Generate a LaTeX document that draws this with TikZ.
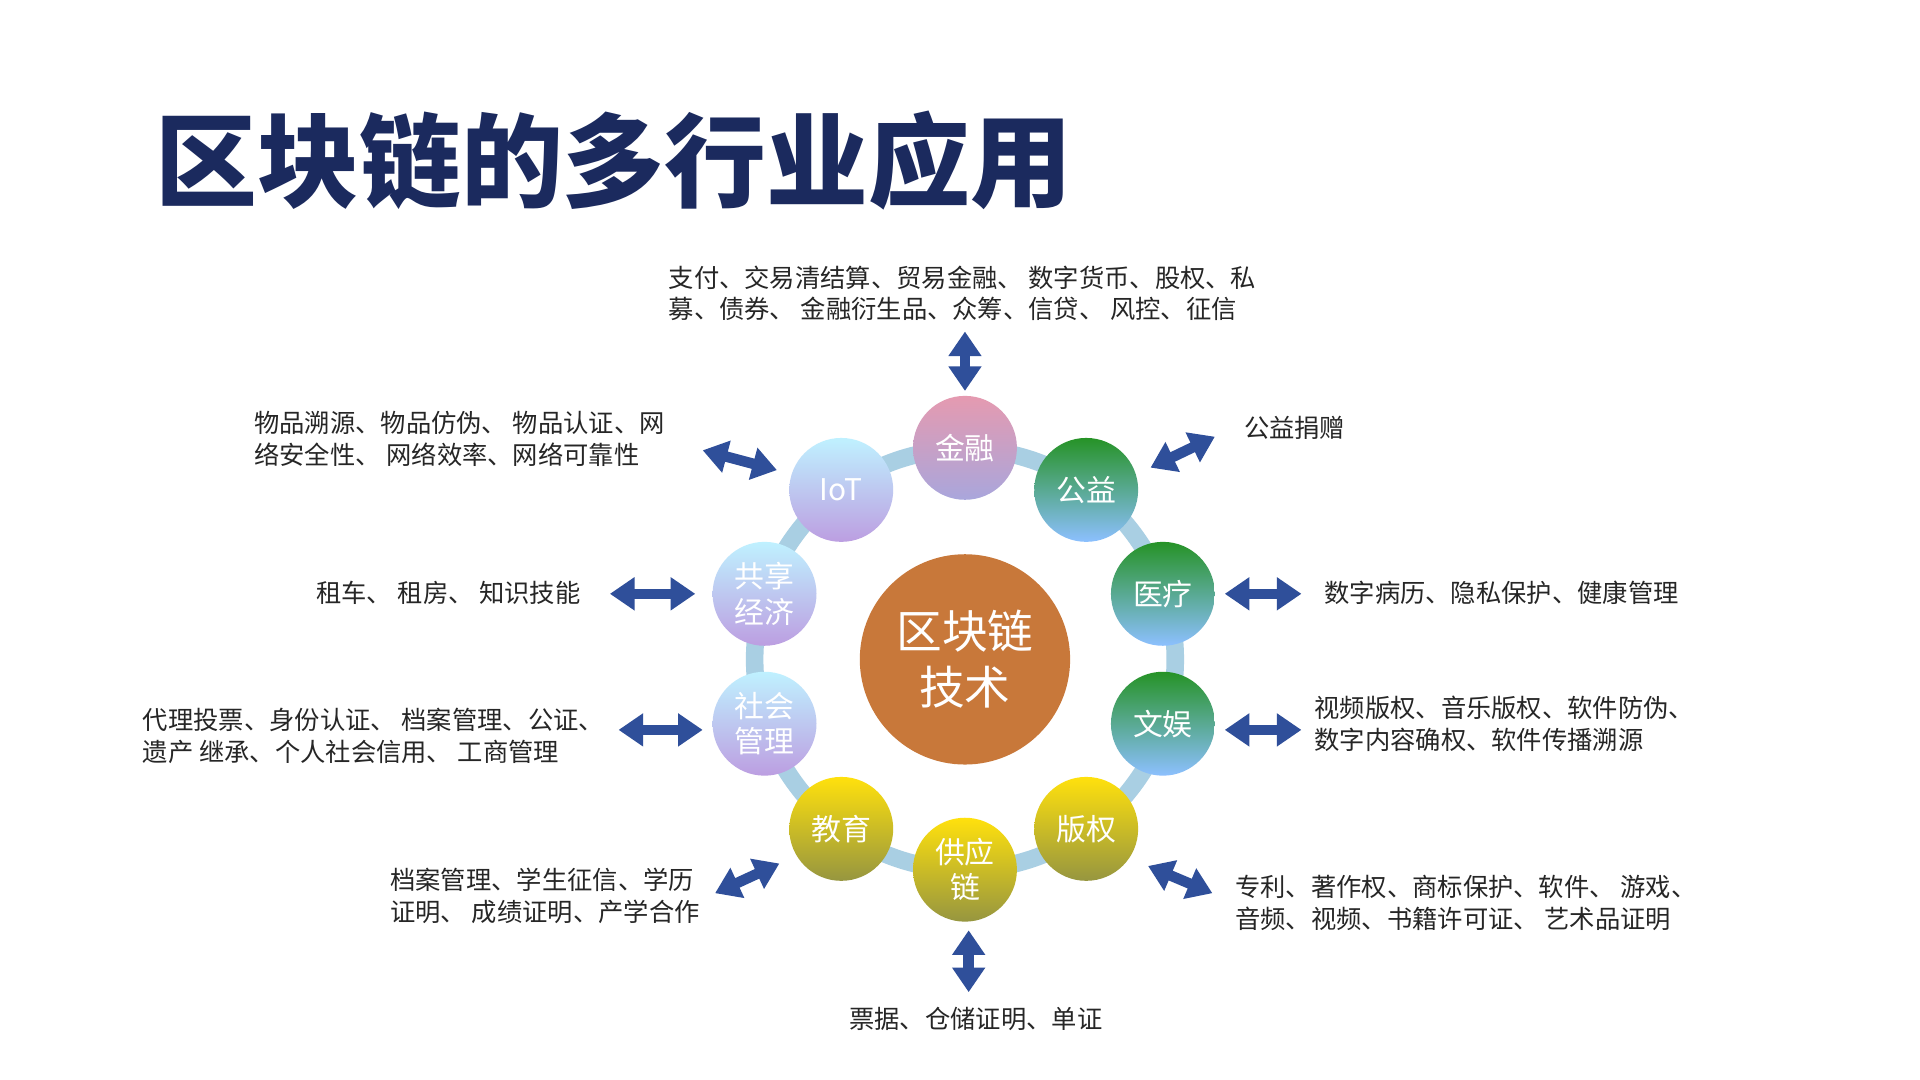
\documentclass[tikz,border=0pt]{standalone}
\usepackage{fontspec}
\setmainfont{Noto Sans CJK SC}
\usetikzlibrary{arrows.meta}
\definecolor{navy}{HTML}{1B2A5E}
\definecolor{arr}{HTML}{2F4F9A}
\definecolor{ringc}{HTML}{A9CFE3}
\definecolor{core}{HTML}{C8783A}
\tikzset{
 ring/.style={circle,minimum size=84*0.012371cm,inner sep=0pt,text=white,font=\fontsize{8.5}{10}\selectfont,align=center},
 pinkc/.style={ring,top color=HTMLpinkA,bottom color=HTMLpinkB},
 greenc/.style={ring,top color=green!50!black!85,middle color=green!45!black!75,bottom color=cyan!45!blue!45},
 goldc/.style={ring,top color=yellow!75!orange!95,bottom color=yellow!45!black!75},
 bluec/.style={ring,top color=blue!22!cyan!25,bottom color=blue!38!violet!38},
 dbl/.style={{Triangle[width=9pt,length=7pt]}-{Triangle[width=9pt,length=7pt]},line width=3pt,arr},
 lab/.style={font=\fontsize{7.2}{9}\selectfont,text=black!85,align=left,inner sep=0pt}
}
\definecolor{HTMLpinkA}{HTML}{E59AB0}
\definecolor{HTMLpinkB}{HTML}{A9A6DC}
\begin{document}
\begin{tikzpicture}[x=0.012371cm,y=-0.012371cm]
\fill[white] (0,0) rectangle (1552,873);
\node[anchor=west,text=navy,font=\fontsize{29}{34}\selectfont\bfseries,inner sep=0pt] (title) at (125,130) {区块链的多行业应用};
\draw[ringc,line width=5pt] (780,533) circle (170);
\node[circle,minimum size=170*0.012371cm,inner sep=0pt,fill=core,text=white,font=\fontsize{13}{16}\selectfont,align=center] (c) at (780,533) {区块链\\技术};
\node[pinkc] (jr) at (780,362) {金融};
\node[greenc] (gy) at (878,396) {公益};
\node[greenc] (yl) at (940,480) {医疗};
\node[greenc] (wy) at (940,585) {文娱};
\node[goldc] (bq) at (878,670) {版权};
\node[goldc] (gyl) at (780,703) {供应\\链};
\node[goldc] (jy) at (680,670) {教育};
\node[bluec] (sh) at (618,585) {社会\\管理};
\node[bluec] (gx) at (618,480) {共享\\经济};
\node[bluec] (iot) at (680,396) {IoT};
\coordinate (a1) at (780,268); \coordinate (a2) at (780,316);
\draw[dbl] (a1) -- (a2);
\coordinate (b1) at (568,364); \coordinate (b2) at (628,380);
\draw[dbl] (b1) -- (b2);
\coordinate (c1) at (930,378); \coordinate (c2) at (982,353);
\draw[dbl] (c1) -- (c2);
\coordinate (d1) at (990,480); \coordinate (d2) at (1052,480);
\draw[dbl] (d1) -- (d2);
\coordinate (e1) at (493,480); \coordinate (e2) at (562,480);
\draw[dbl] (e1) -- (e2);
\coordinate (f1) at (990,590); \coordinate (f2) at (1052,590);
\draw[dbl] (f1) -- (f2);
\coordinate (g1) at (500,590); \coordinate (g2) at (568,590);
\draw[dbl] (g1) -- (g2);
\coordinate (h1) at (578,722); \coordinate (h2) at (630,698);
\draw[dbl] (h1) -- (h2);
\coordinate (i1) at (928,700); \coordinate (i2) at (980,722);
\draw[dbl] (i1) -- (i2);
\coordinate (j1) at (783,752); \coordinate (j2) at (783,802);
\draw[dbl] (j1) -- (j2);
\node[lab,anchor=west] (t1) at (540,237) {支付、交易清结算、贸易金融、 数字货币、股权、私\\募、债券、 金融衍生品、众筹、信贷、 风控、征信};
\node[lab,anchor=west] (t2) at (205,355) {物品溯源、物品仿伪、 物品认证、网\\络安全性、 网络效率、网络可靠性};
\node[lab,anchor=west] (t3) at (1005,346) {公益捐赠};
\node[lab,anchor=west] (t4) at (255,479) {租车、 租房、 知识技能};
\node[lab,anchor=west] (t5) at (1070,479) {数字病历、隐私保护、健康管理};
\node[lab,anchor=west] (t6) at (115,595) {代理投票、身份认证、 档案管理、公证、\\遗产 继承、个人社会信用、 工商管理};
\node[lab,anchor=west] (t7) at (1062,585) {视频版权、音乐版权、软件防伪、\\数字内容确权、软件传播溯源};
\node[lab,anchor=west] (t8) at (315,724) {档案管理、学生征信、学历\\证明、 成绩证明、产学合作};
\node[lab,anchor=west] (t9) at (998,730) {专利、著作权、商标保护、软件、 游戏、\\音频、视频、书籍许可证、 艺术品证明};
\node[lab,anchor=west] (t10) at (686,824) {票据、仓储证明、单证};
\end{tikzpicture}
\end{document}
